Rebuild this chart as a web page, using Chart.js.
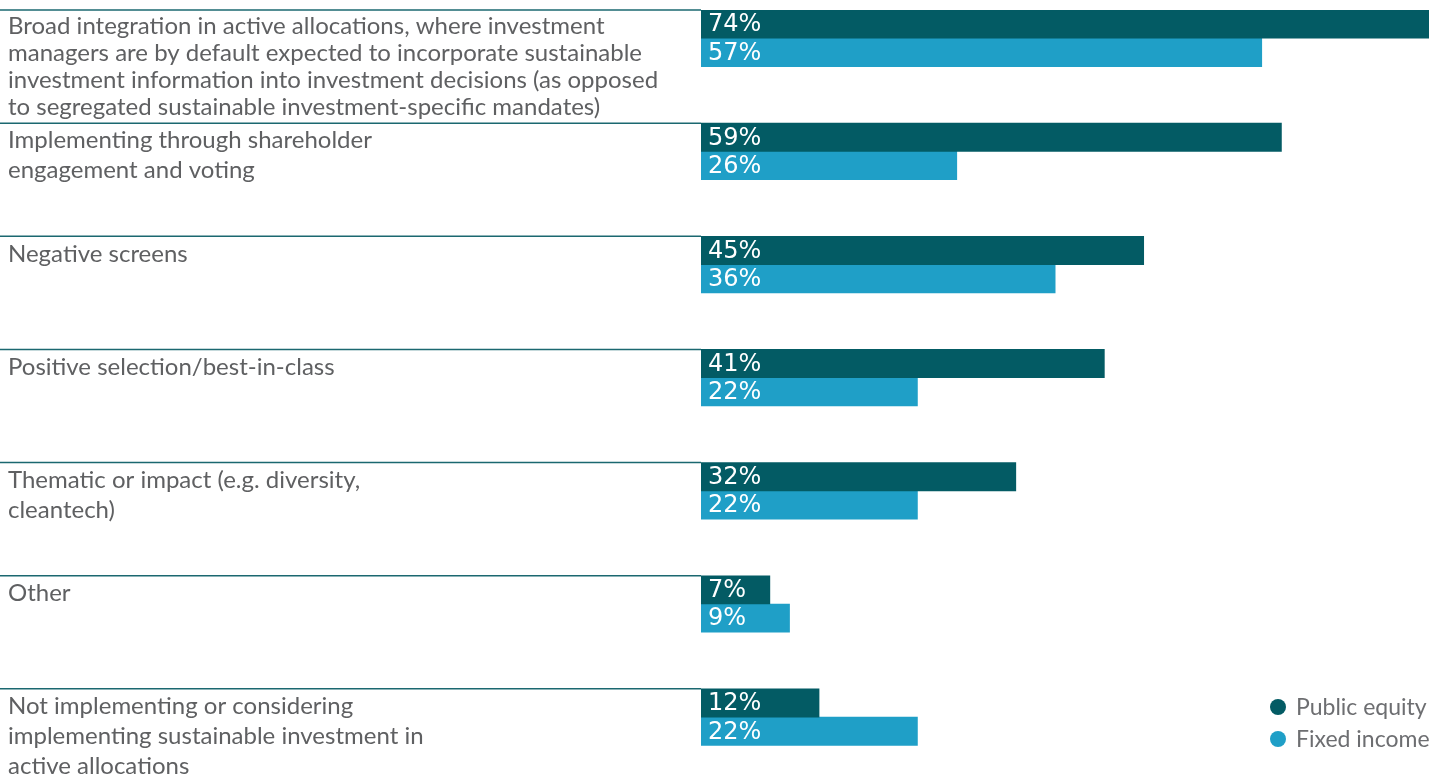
<!DOCTYPE html>
<html lang="en">
<head>
    <meta charset="UTF-8">
    <title>Sustainable investment implementation</title>
    <script src="https://cdn.jsdelivr.net/npm/chart.js"></script>
    <style>
        html, body {
            margin: 0;
            padding: 0;
            overflow: hidden;
            background: #ffffff;
        }
        .chart-container {
            position: relative;
            width: 1429px;
            height: 802px;
        }
    </style>
</head>
<body>
    <div class="chart-container">
        <canvas id="implChart"></canvas>
    </div>
    <script>
        // Category labels, already wrapped into lines
        const categories = [
            ["Broad integration in active allocations, where investment",
             "managers are by default expected to incorporate sustainable",
             "investment information into investment decisions (as opposed",
             "to segregated sustainable investment-specific mandates)"],
            ["Implementing through shareholder", "engagement and voting"],
            ["Negative screens"],
            ["Positive selection/best-in-class"],
            ["Thematic or impact (e.g. diversity,", "cleantech)"],
            ["Other"],
            ["Not implementing or considering",
             "implementing sustainable investment in",
             "active allocations"]
        ];
        const publicEquity = [74, 59, 45, 41, 32, 7, 12];
        const fixedIncome = [57, 26, 36, 22, 22, 9, 22];
        const seriesNames = ["Public equity", "Fixed income"];

        const darkTeal = '#035b64';
        const lightBlue = '#1f9fc7';
        const labelGrey = '#5f6062';

        // Empty slots so each pair of bars sits at the top of its band
        const spacer = categories.map(() => null);

        // Separator lines, wrapped category text, value labels and legend
        const annotate = {
            id: 'annotate',
            beforeDatasetsDraw(chart) {
                const ctx = chart.ctx;
                const y = chart.scales.y;
                const band = (y.bottom - y.top) / categories.length;
                ctx.save();
                ctx.strokeStyle = '#1b6870';
                ctx.lineWidth = 1.5;
                categories.forEach((_, i) => {
                    const top = y.top + i * band;
                    ctx.beginPath();
                    ctx.moveTo(0, top);
                    ctx.lineTo(chart.chartArea.left, top);
                    ctx.stroke();
                });
                ctx.restore();
            },
            afterDatasetsDraw(chart) {
                const ctx = chart.ctx;
                const x = chart.scales.x;
                const y = chart.scales.y;
                const band = (y.bottom - y.top) / categories.length;
                ctx.save();

                // category text
                ctx.font = '24px Lato';
                ctx.fillStyle = labelGrey;
                ctx.textAlign = 'left';
                ctx.textBaseline = 'middle';
                categories.forEach((lines, i) => {
                    const top = y.top + i * band;
                    const tight = lines.length > 3;
                    const lh = tight ? 27 : 30;
                    const first = tight ? 16 : 17.5;
                    lines.forEach((line, j) => {
                        ctx.fillText(line, 8, top + first + j * lh);
                    });
                });

                // values inside the bars
                ctx.font = '24px "DejaVu Sans"';
                ctx.fillStyle = '#ffffff';
                [0, 1].forEach(d => {
                    const meta = chart.getDatasetMeta(d);
                    meta.data.forEach((bar, i) => {
                        const v = chart.data.datasets[d].data[i];
                        ctx.fillText(v + '%', x.getPixelForValue(0) + 7, bar.y + 1);
                    });
                });

                // legend
                ctx.font = '23px Lato';
                [darkTeal, lightBlue].forEach((c, k) => {
                    const cy = 707 + k * 32;
                    ctx.fillStyle = c;
                    ctx.beginPath();
                    ctx.arc(1278, cy, 8, 0, Math.PI * 2);
                    ctx.fill();
                    ctx.fillStyle = '#6d6e71';
                    ctx.fillText(seriesNames[k], 1296, cy + 1);
                });
                ctx.restore();
            }
        };

        const ctx = document.getElementById('implChart').getContext('2d');
        new Chart(ctx, {
            type: 'bar',
            data: {
                labels: categories,
                datasets: [
                    { label: seriesNames[0], data: publicEquity, backgroundColor: darkTeal },
                    { label: seriesNames[1], data: fixedIncome, backgroundColor: lightBlue },
                    { label: '', data: spacer },
                    { label: '', data: spacer }
                ]
            },
            options: {
                indexAxis: 'y',
                responsive: true,
                maintainAspectRatio: false,
                animation: false,
                layout: { padding: { left: 701, top: 10, right: 0, bottom: 0 } },
                datasets: {
                    bar: { categoryPercentage: 1, barPercentage: 1, borderWidth: 0 }
                },
                plugins: {
                    legend: { display: false },
                    tooltip: { enabled: false }
                },
                scales: {
                    x: { display: false, min: 0, max: 74 },
                    y: { display: false }
                }
            },
            plugins: [annotate]
        });
    </script>
</body>
</html>
